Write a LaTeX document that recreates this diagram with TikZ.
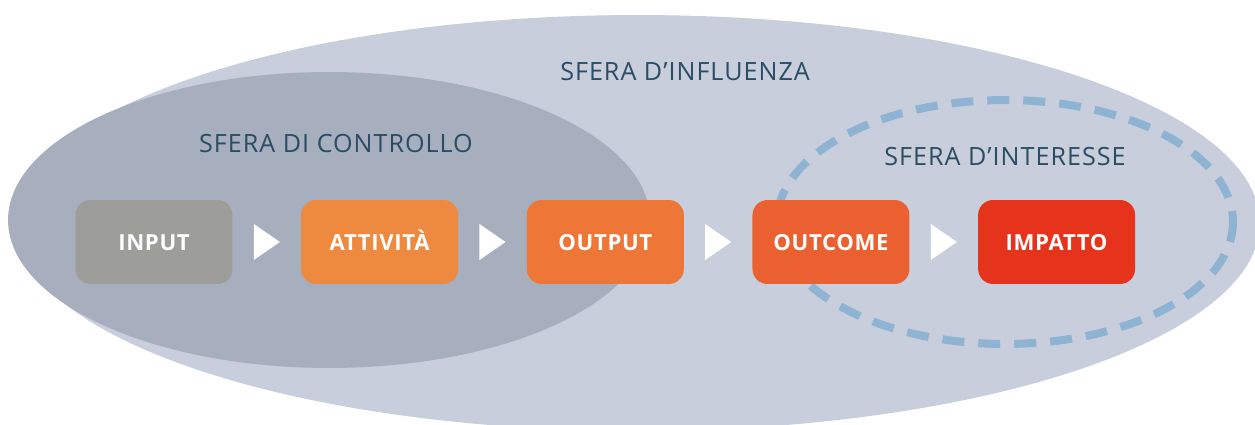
\documentclass[tikz,border=0pt]{standalone}
\usepackage{fontspec}
\setmainfont{Open Sans}
\usepackage{xcolor}
\usetikzlibrary{chains, positioning, calc}

\definecolor{influenza}{HTML}{C8CEDC}
\definecolor{controllo}{HTML}{A7AEBE}
\definecolor{interesse}{HTML}{8FB3D3}
\definecolor{titolo}{HTML}{2A4D63}
\definecolor{cinput}{HTML}{9D9D9A}
\definecolor{cattivita}{HTML}{EE8A3F}
\definecolor{coutput}{HTML}{EE7737}
\definecolor{coutcome}{HTML}{EB6030}
\definecolor{cimpatto}{HTML}{E6341C}

\begin{document}
\begin{tikzpicture}[
    x = 0.02cm, y = -0.02cm,
    node distance = 1.36cm,
    start chain = going right,
    stepbox/.style = {
        rectangle, rounded corners=0.3cm, minimum width=3.14cm, minimum height=1.68cm,
        text height=9.4pt, text depth=0pt,
        text=white, font=\bfseries\fontsize{12.6}{15}\selectfont\addfontfeature{LetterSpace=3}, on chain
    },
    sfera/.style = {text=titolo, font=\fontsize{14.3}{17}\selectfont\addfontfeature{LetterSpace=4}},
    freccia/.style = {fill=white}
  ]
    \useasboundingbox (0,0) rectangle (1255,425);
    \clip (0,0) rectangle (1255,425);
    \fill[influenza] (638,223) ellipse [x radius=12.44cm, y radius=4.16cm];  % sfera d'influenza
    \fill[controllo] (329,220) ellipse [x radius=6.42cm, y radius=2.96cm];  % sfera di controllo
    \draw[interesse, line width=0.16cm, dash pattern=on 0.44cm off 0.28cm, dash phase=0.22cm]
        (1005,222) ellipse [x radius=4.56cm, y radius=2.44cm];  % sfera d'interesse

    \node[sfera] (t-influenza) at (685,72) {SFERA D’INFLUENZA};
    \node[sfera] (t-controllo) at (336,144) {SFERA DI CONTROLLO};
    \node[sfera] (t-interesse) at (1005,157) {SFERA D’INTERESSE};

    \node[stepbox, fill=cinput] (input) at (154,242) {INPUT};
    \node[stepbox, fill=cattivita] (attivita) {ATTIVITÀ};
    \node[stepbox, fill=coutput] (output) {OUTPUT};
    \node[stepbox, fill=coutcome] (outcome) {OUTCOME};
    \node[stepbox, fill=cimpatto] (impatto) {IMPATTO};

    % triangoli bianchi tra i blocchi
    \foreach \a/\b in {input/attivita, attivita/output, output/outcome, outcome/impatto}
        \fill[freccia] ($(\a.east)!0.5!(\b.west)$) +(-13,-18) -- +(13,0) -- +(-13,18) -- cycle;
\end{tikzpicture}
\end{document}
